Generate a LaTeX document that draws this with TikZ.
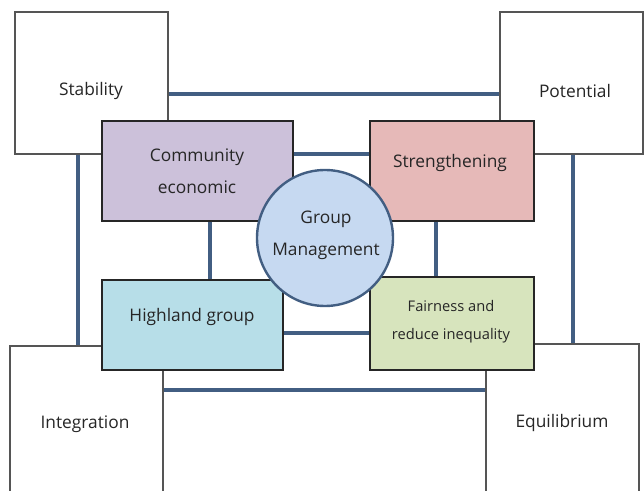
\documentclass[tikz,border=0pt]{standalone}
\usepackage{fontspec}
\setmainfont{Open Sans}
\usetikzlibrary{fit}
\definecolor{LinkBlue}{RGB}{66,94,130}
\definecolor{CommPurple}{RGB}{204,193,218}
\definecolor{StrPink}{RGB}{230,185,184}
\definecolor{HighBlue}{RGB}{183,222,232}
\definecolor{FairGreen}{RGB}{215,228,189}
\definecolor{GroupBlue}{RGB}{198,217,241}
\definecolor{BoxGray}{RGB}{85,85,85}

\tikzset{
  plainbox/.style={draw=BoxGray, line width=0.9pt, fill=white, inner sep=0pt},
  colbox/.style={draw=black!85, line width=0.9pt, inner sep=0pt},
  link/.style={draw=LinkBlue, line width=2.6pt},
  lbl/.style={font=\fontsize{13}{24}\selectfont, align=center, text=black!85, inner sep=0pt},
  smalllbl/.style={lbl, font=\fontsize{11}{21}\selectfont}
}

\begin{document}
\begin{tikzpicture}[x=0.75pt, y=-0.75pt]
\useasboundingbox (0,0) rectangle (644,491);
\clip (0,0) rectangle (644,491); % outer boxes are cut at the page edge

% white corner boxes
\node[plainbox, fit={(15,12) (168,154)}] (stab) {};
\node[plainbox, fit={(500,12) (643,154)}] (pot) {};
\node[plainbox, fit={(10,346) (163,500)}] (integ) {};
\node[plainbox, fit={(486,344) (639,500)}] (equi) {};

% coloured inner boxes
\node[colbox, fill=CommPurple, fit={(102,121) (293,221)}] (comm) {};
\node[colbox, fill=StrPink, fit={(370,121) (534,221)}] (str) {};
\node[colbox, fill=HighBlue, fit={(102,280) (283,370)}] (high) {};
\node[colbox, fill=FairGreen, fit={(370,277) (534,370)}] (fair) {};

% centre circle
\node[circle, draw=LinkBlue, line width=1.8pt, fill=GroupBlue, minimum size=102pt] (grp) at (325,238) {};

% line positions
\coordinate (topY) at (0,94);
\coordinate (midY) at (0,154);
\coordinate (lowY) at (0,333);
\coordinate (botY) at (0,390);
\coordinate (leftX) at (78,0);
\coordinate (innerL) at (210,0);
\coordinate (innerR) at (436,0);
\coordinate (rightX) at (573,0);

\draw[link] (stab.east |- topY) -- (pot.west |- topY);
\draw[link] (comm.east |- midY) -- (str.west |- midY);
\draw[link] (high.east |- lowY) -- (fair.west |- lowY);
\draw[link] (integ.east |- botY) -- (equi.west |- botY);
\draw[link] (stab.south -| leftX) -- (integ.north -| leftX);
\draw[link] (comm.south -| innerL) -- (high.north -| innerL);
\draw[link] (str.south -| innerR) -- (fair.north -| innerR);
\draw[link] (pot.south -| rightX) -- (equi.north -| rightX);

% texts
\node[lbl] (stabtxt) at (91,91) {Stability};
\node[lbl] (pottxt) at (575,91) {Potential};
\node[lbl] (integtxt) at (85,424) {Integration};
\node[lbl] (equitxt) at (562,423) {Equilibrium};
\node[lbl] (commtxt) at (197,171) {Community\\economic};
\node[lbl] (strtxt) at (450,163) {Strengthening};
\node[lbl] (hightxt) at (192,317) {Highland group};
\node[smalllbl] (fairtxt) at (451,322) {Fairness and\\reduce inequality};
\node[lbl] (grptxt) at (326,235) {Group\\Management};

\end{tikzpicture}
\end{document}
